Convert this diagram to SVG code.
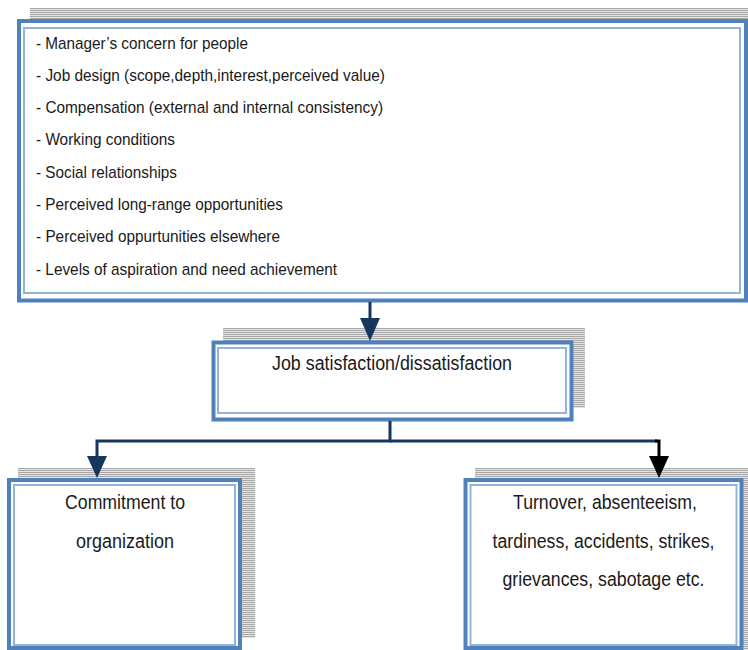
<svg xmlns="http://www.w3.org/2000/svg" width="748" height="650" viewBox="0 0 748 650">
<defs>
<pattern id="stripes" width="4" height="2" patternUnits="userSpaceOnUse">
<rect width="4" height="2" fill="#e4e4e4"/>
<rect width="4" height="1" fill="#a8a8a8"/>
</pattern>
</defs>
<style>
.shadow{fill:url(#stripes);}
.outer{fill:#ffffff;stroke:#4f81bd;stroke-width:4;}
.inner{fill:none;stroke:#95b3d7;stroke-width:2;}
.t{font-family:"Liberation Sans",Arial,sans-serif;fill:#1a1a1a;}
.s{font-size:17px;}
.b{font-size:20px;}
.nav{stroke:#17365d;stroke-width:3;fill:none;}
.blk{stroke:#000000;stroke-width:3;fill:none;}
</style>
<rect width="748" height="650" fill="#ffffff"/>
<g id="factors">
<rect class="shadow" x="30" y="8" width="730" height="280"/>
<rect class="outer" x="19" y="21" width="727" height="279.5"/>
<rect class="inner" x="24" y="28" width="716" height="265"/>
<text class="t s" x="36" y="48.5" textLength="212" lengthAdjust="spacingAndGlyphs">- Manager’s concern for people</text>
<text class="t s" x="36" y="80.8" textLength="349" lengthAdjust="spacingAndGlyphs">- Job design (scope,depth,interest,perceived value)</text>
<text class="t s" x="36" y="113.1" textLength="347" lengthAdjust="spacingAndGlyphs">- Compensation (external and internal consistency)</text>
<text class="t s" x="36" y="145.4" textLength="139" lengthAdjust="spacingAndGlyphs">- Working conditions</text>
<text class="t s" x="36" y="177.7" textLength="141" lengthAdjust="spacingAndGlyphs">- Social relationships</text>
<text class="t s" x="36" y="210" textLength="247" lengthAdjust="spacingAndGlyphs">- Perceived long-range opportunities</text>
<text class="t s" x="36" y="242.3" textLength="244" lengthAdjust="spacingAndGlyphs">- Perceived oppurtunities elsewhere</text>
<text class="t s" x="36" y="274.6" textLength="301" lengthAdjust="spacingAndGlyphs">- Levels of aspiration and need achievement</text>
</g>
<g id="satisfaction">
<rect class="shadow" x="223" y="328" width="362" height="80"/>
<rect class="outer" x="213.5" y="342.5" width="358" height="77"/>
<rect class="inner" x="218" y="348" width="348" height="65"/>
<text class="t b" x="272" y="369.5" textLength="240" lengthAdjust="spacingAndGlyphs">Job satisfaction/dissatisfaction</text>
</g>
<g id="commitment">
<rect class="shadow" x="18" y="468" width="237" height="170"/>
<rect class="outer" x="9" y="480" width="231" height="168"/>
<rect class="inner" x="14" y="485" width="221" height="160"/>
<text class="t b" x="65" y="509" textLength="120" lengthAdjust="spacingAndGlyphs">Commitment to</text>
<text class="t b" x="76" y="548" textLength="98" lengthAdjust="spacingAndGlyphs">organization</text>
</g>
<g id="withdrawal">
<rect class="shadow" x="475" y="468" width="280" height="190"/>
<rect class="outer" x="465.5" y="480" width="276" height="168"/>
<rect class="inner" x="470.5" y="485" width="266" height="160"/>
<text class="t b" x="513" y="509" textLength="184" lengthAdjust="spacingAndGlyphs">Turnover, absenteeism,</text>
<text class="t b" x="492.5" y="547.5" textLength="222" lengthAdjust="spacingAndGlyphs">tardiness, accidents, strikes,</text>
<text class="t b" x="502.5" y="586" textLength="202" lengthAdjust="spacingAndGlyphs">grievances, sabotage etc.</text>
</g>
<g id="connectors">
<line class="nav" x1="370" y1="302" x2="370" y2="322"/>
<polygon points="360,318 380,318 370,341" fill="#17365d"/>
<polyline class="nav" points="390,421 390,441 97,441 97,458"/>
<polygon points="87,456 107,456 97,478" fill="#17365d"/>
<line class="nav" x1="390" y1="441" x2="657" y2="441"/>
<polyline class="blk" points="655,441 659,441 659,458"/>
<polygon points="649,456 669,456 659,478" fill="#000000"/>
</g>
</svg>
